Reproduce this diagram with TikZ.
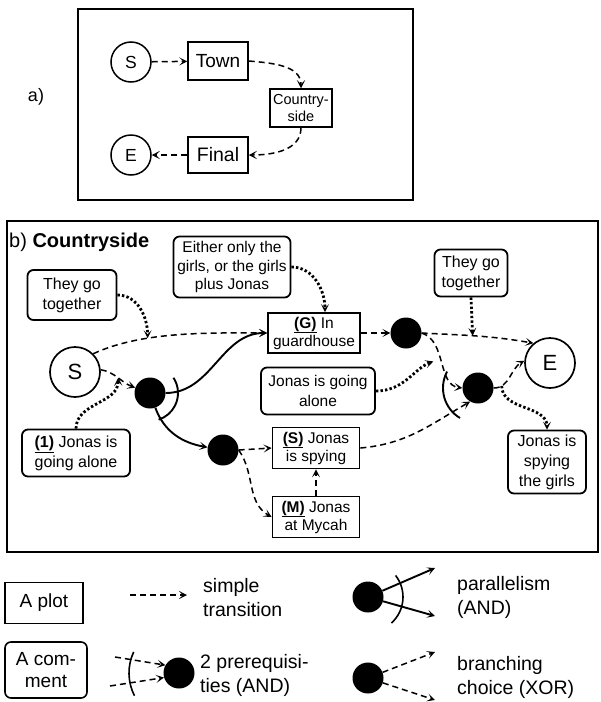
\documentclass[tikz,border=0pt]{standalone}
\usepackage{fontspec}
\setmainfont{Liberation Sans}
\usetikzlibrary{arrows.meta,calc}
\begin{document}
\begin{tikzpicture}[x=1pt,y=1pt,
  >={Stealth[length=8pt,width=8pt,inset=4pt]},
  box/.style={draw,line width=1.8pt,inner sep=0pt,align=center},
  plotbox/.style={box,font=\fontsize{15.5}{18}\selectfont},
  combox/.style={box,rounded corners=6pt,font=\fontsize{15.5}{18.5}\selectfont},
  bstate/.style={draw,circle,line width=1.7pt,minimum size=50pt,inner sep=0pt,font=\fontsize{22}{24}\selectfont},
  astate/.style={draw,circle,line width=1.5pt,minimum size=40pt,inner sep=0pt,font=\fontsize{17.5}{20}\selectfont},
  abox/.style={draw,line width=1.5pt,inner sep=0pt,align=center},
  dot/.style={fill,circle,minimum size=31pt,inner sep=0pt},
  trans/.style={dash pattern=on 6pt off 4pt,line width=1.5pt,->},
  andline/.style={line width=1.9pt,->},
  andarc/.style={line width=1.9pt},
  cmt/.style={line width=2.8pt,dash pattern=on 2.4pt off 2.2pt,->},
  legtext/.style={anchor=west,align=left,inner sep=0pt,font=\fontsize{19.5}{24}\selectfont}
]
\useasboundingbox (0,0) rectangle (601,-702);

% ---------- a)
\draw[line width=1.9pt] (78,-9) rectangle (413,-200);
\node[font=\fontsize{18}{20}\selectfont] (alabel) at (36,-97) {a)};
\node[astate] (aS) at (131,-62) {S};
\node[abox,minimum width=60pt,minimum height=38pt,font=\fontsize{19}{20}\selectfont] (town) at (218,-61) {Town};
\node[abox,minimum width=62pt,minimum height=38pt,font=\fontsize{14.5}{17}\selectfont] (country) at (301,-108) {Country-\\side};
\node[abox,minimum width=60pt,minimum height=36pt,font=\fontsize{19.5}{20}\selectfont] (final) at (218,-155) {Final};
\node[astate] (aE) at (131,-155) {E};
\draw[trans] (aS) -- (town);
\draw[trans] (town.east) to[out=-5,in=90] (country.north);
\draw[trans] (country.south) to[out=-90,in=0] (final.east);
\draw[trans] (final) -- (aE);

% ---------- b)
\draw[line width=2.2pt] (7,-221) rectangle (598,-552);
\node[anchor=base west,inner sep=0pt,font=\fontsize{20}{22}\selectfont] (btitle) at (9,-247) {b) \textbf{Countryside}};

\node[combox,minimum width=117pt,minimum height=61pt] (either) at (232,-267) {Either only the\\girls, or the girls\\plus Jonas};
\node[combox,minimum width=89pt,minimum height=50pt,font=\fontsize{16}{20}\selectfont] (tog1) at (72,-295) {They go\\together};
\node[bstate] (bS) at (75,-372) {S};
\node[dot] (d1) at (150,-393) {};
\node[plotbox,minimum width=92pt,minimum height=40pt] (G) at (314,-333) {\underline{\textbf{(G)}} In\\guardhouse};
\node[dot] (d2) at (406,-333) {};
\node[combox,minimum width=73pt,minimum height=47pt,font=\fontsize{16}{20}\selectfont] (tog2) at (471,-273) {They go\\together};
\node[bstate] (bE) at (550,-363) {E};
\node[combox,minimum width=114pt,minimum height=47pt,font=\fontsize{15.5}{20}\selectfont] (alone) at (318,-391) {Jonas is going\\alone};
\node[dot] (d3) at (478,-388) {};
\node[plotbox,minimum width=87pt,minimum height=41pt] (Sb) at (316,-448) {\underline{\textbf{(S)}} Jonas\\is spying};
\node[plotbox,minimum width=87pt,minimum height=41pt] (Mb) at (316,-517) {\underline{\textbf{(M)}} Jonas\\at Mycah};
\node[dot] (d4) at (223,-450) {};
\node[combox,minimum width=108pt,minimum height=47pt,font=\fontsize{16}{20}\selectfont] (one) at (76,-453) {\underline{\textbf{(1)}} Jonas is\\going alone};
\node[combox,minimum width=78pt,minimum height=63pt,font=\fontsize{16}{20}\selectfont] (spy) at (547,-462) {Jonas is\\spying\\the girls};

\coordinate (Gt) at ([xshift=11pt]G.north);

% connectors
\draw[trans] (bS.45) to[out=25,in=180,looseness=0.8] coordinate[pos=0.33] (p1) (G.west);
\draw[cmt] (tog1.east) to[out=0,in=90] (p1);
\draw[trans] (bS.5) to[out=-10,in=160] coordinate[pos=0.5] (p2) (d1);
\draw[cmt] (one.north) to[out=90,in=-90] (p2);
\draw[andline] (d1.east) to[out=0,in=180] (G.west);
\draw[andline] (d1.-70) to[out=-70,in=170] (d4);
\draw[andarc] ([shift={(33:28)}]d1.center) arc[start angle=33,end angle=-72,radius=28];
\draw[trans] (d4.east) -- (Sb.west);
\draw[trans] (d4.east) to[out=-55,in=150] (Mb.west);
\draw[trans] (Mb.north) -- (Sb.south);
\draw[cmt] (either.east) to[out=0,in=90] (Gt);
\draw[trans] (G.east) -- (d2.west);
\draw[trans] (d2.east) to[out=-3,in=170] coordinate[pos=0.45] (p3) (bE.130);
\draw[cmt] (tog2.south) -- (p3);
\draw[trans] (d2.east) .. controls +(25,-8) and +(-25,3) .. (d3.west) coordinate[pos=0.45] (p4);
\draw[cmt,shorten >=8pt] (alone.east) to[out=0,in=200] (p4);
\draw[trans] (Sb.east) to[out=5,in=210] (d3.240);
\draw[andarc] ([shift={(152:35)}]d3.center) arc[start angle=152,end angle=239,radius=35];
\draw[trans] (d3.east) to[out=0,in=210] coordinate[pos=0.2] (p5) (bE.175);
\draw[cmt] (p5) to[out=-90,in=90] (spy.north);

% ---------- legend
\node[box,line width=1.6pt,minimum width=78pt,minimum height=41pt,font=\fontsize{19}{22}\selectfont] (lplot) at (44,-603) {A plot};
\node[box,line width=1.6pt,rounded corners=6pt,minimum width=82pt,minimum height=56pt,font=\fontsize{19}{22}\selectfont] (lcom) at (46,-670) {A com-\\ment};

\coordinate (lt1) at (130,-595);
\coordinate (lt2) at (187,-595);
\draw[trans] (lt1) -- (lt2);
\node[legtext] (ltxt1) at (203,-598) {simple\\transition};

\node[dot] (lpd) at (179,-673) {};
\coordinate (li1) at (115,-657);
\coordinate (li2) at (110,-686);
\draw[trans] (li1) -- (lpd.150);
\draw[trans] (li2) -- (lpd.197);
\draw[andarc,line width=1.6pt] ([shift={(155:50)}]lpd.center) arc[start angle=155,end angle=207,radius=50];
\node[legtext] (ltxt2) at (200,-675) {2 prerequisi-\\ties (AND)};

\node[dot] (lpar) at (368,-597) {};
\coordinate (lo1) at (435,-568);
\coordinate (lo2) at (435,-616);
\draw[andline] (lpar) -- (lo1);
\draw[andline] (lpar) -- (lo2);
\draw[andarc,line width=1.6pt] ([shift={(38:35)}]lpar.center) arc[start angle=38,end angle=-48,radius=35];
\node[legtext] (ltxt3) at (457,-597) {parallelism\\(AND)};

\node[dot] (lxor) at (368,-678) {};
\coordinate (lx1) at (435,-652);
\coordinate (lx2) at (435,-700);
\draw[trans] (lxor) -- (lx1);
\draw[trans] (lxor) -- (lx2);
\node[legtext] (ltxt4) at (457,-677) {branching\\choice (XOR)};
\end{tikzpicture}
\end{document}
